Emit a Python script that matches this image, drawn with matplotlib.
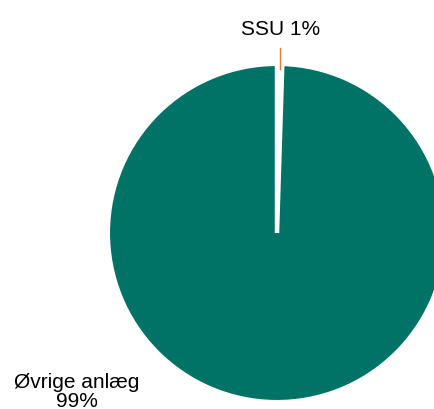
import matplotlib
matplotlib.use("Agg")
import matplotlib.pyplot as plt

categories = ["SSU", "Øvrige anlæg"]
values = [0.5, 99.5]
pct_labels = ["1%", "99%"]
colors = ["#ffffff", "#007366"]

plt.rcParams['font.family'] = ['Liberation Sans', 'DejaVu Sans']

fig = plt.figure(figsize=(4.34, 4.10), dpi=100)
ax = fig.add_axes([0, 0, 1, 1])
ax.pie(values, colors=colors, startangle=90, counterclock=False,
       wedgeprops=dict(edgecolor="white", linewidth=3.2), radius=1.013)

R = 167.0
cx, cy = 277.0, 234.0
ax.set_xlim(-cx / R, (434 - cx) / R)
ax.set_ylim(-(410 - cy) / R, cy / R)
ax.set_aspect('equal')
ax.axis('off')

# SSU label with leader line
ax.plot([0.018, 0.018], [0.98, 1.11], color="#E8773A", lw=1.0)
ax.text(0.024, 1.192, f"{categories[0]} {pct_labels[0]}", ha='center', va='baseline',
        fontsize=15, color='black')

# Øvrige anlæg label
ax.text(-1.198, -0.922, categories[1], ha='center', va='baseline', fontsize=15, color='black')
ax.text(-1.198, -1.036, pct_labels[1], ha='center', va='baseline', fontsize=15, color='black')

fig.savefig("out.png", dpi=100)
